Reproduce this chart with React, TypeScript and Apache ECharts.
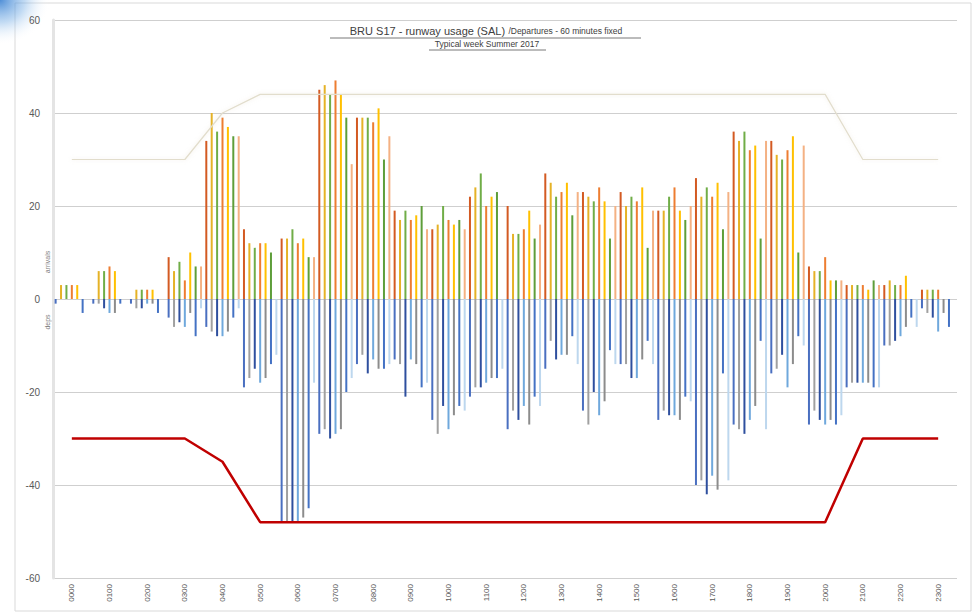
import React, { useEffect, useRef } from "react";
import * as echarts from "echarts";

const hours = ["0000","0100","0200","0300","0400","0500","0600","0700","0800","0900","1000","1100","1200","1300","1400","1500","1600","1700","1800","1900","2000","2100","2200","2300"];

// arrivals per day of the typical week (positive)
const arrDay1 = [0,0,0,9,34,15,13,45,39,19,15,22,20,27,23,23,19,26,36,34,7,3,3,2];
const arrDay2 = [3,6,2,6,40,12,13,46,39,17,16,24,14,25,22,20,19,22,34,31,6,3,4,2];
const arrDay3 = [3,6,2,8,36,11,15,44,39,19,20,27,14,22,21,22,22,24,36,30,6,3,3,2];
const arrDay4 = [3,7,2,4,39,12,12,47,38,17,17,20,15,23,24,21,24,22,32,32,9,3,3,2];
const arrDay5 = [3,6,2,10,37,12,13,44,41,18,16,22,19,25,21,24,19,25,33,35,4,2,5,0];
const arrDay6 = [0,0,0,7,35,10,9,39,30,20,17,23,13,18,13,11,17,15,13,10,4,4,0,0];
const arrDay7 = [0,0,0,7,35,0,9,29,35,15,15,0,16,23,20,19,20,23,34,33,4,3,0,0];

// departures per day (negative)
const depDay1 = [-1,-1,-1,-4,-6,-19,-48,-29,-14,-13,-26,-21,-28,-15,-24,-14,-26,-40,-27,-16,-27,-19,-10,-2];
const depDay2 = [0,-1,-2,-6,-7,-17,-48,-28,-12,-14,-29,-19,-24,-9,-27,-14,-24,-39,-28,-15,-24,-18,-10,-3];
const depDay3 = [0,-2,-2,-5,-8,-15,-48,-30,-16,-21,-23,-19,-26,-13,-20,-17,-25,-42,-29,-12,-26,-18,-9,-4];
const depDay4 = [0,-3,-1,-6,-8,-18,-48,-29,-13,-13,-28,-18,-23,-12,-25,-17,-25,-38,-26,-19,-27,-18,-8,-7];
const depDay5 = [0,-3,-1,-3,-7,-17,-47,-28,-15,-14,-25,-17,-27,-12,-22,-13,-26,-41,-23,-14,-26,-18,-6,-3];
const depDay6 = [-3,-1,-3,-8,-4,-14,-45,-20,-15,-19,-23,-17,-21,-8,-11,-9,-21,-16,-9,-8,-27,-19,-4,-6];
const depDay7 = [0,0,0,-2,-2,-12,-18,-17,-14,-18,-24,-15,-23,-14,-14,-14,-22,-39,-28,-10,-25,-19,-6,0];

// capacity lines
const arrCapacity = [30,30,30,30,40,44,44,44,44,44,44,44,44,44,44,44,44,44,44,44,44,30,30,30];
const depCapacity = [-30,-30,-30,-30,-35,-48,-48,-48,-48,-48,-48,-48,-48,-48,-48,-48,-48,-48,-48,-48,-48,-30,-30,-30];

const yTicks = { min: -60, max: 60, interval: 20 };

const arrivals = [arrDay1, arrDay2, arrDay3, arrDay4, arrDay5, arrDay6, arrDay7];
const departures = [depDay1, depDay2, depDay3, depDay4, depDay5, depDay6, depDay7];
const arrColors = ["#D35A22", "#E5B226", "#70AD47", "#ED7D31", "#FFC000", "#5E9E3A", "#F4B183"];
const depColors = ["#4A6FC0", "#A0A0A0", "#2E4F9E", "#6FA8DC", "#8C8C8C", "#4472C4", "#BDD7EE"];

const FONT = "'Liberation Sans', Arial, sans-serif";

export default function App() {
  const ref = useRef<HTMLDivElement>(null);
  useEffect(() => {
    const chart = echarts.init(ref.current!, null, { renderer: "svg" });
    const series: any[] = [];
    for (let i = 0; i < 7; i++) {
      series.push({
        type: "bar",
        name: "arr" + (i + 1),
        stack: "d" + i,
        data: arrivals[i],
        barWidth: 2,
        barGap: "170%",
        itemStyle: { color: arrColors[i] },
        z: 2,
      });
      series.push({
        type: "bar",
        name: "dep" + (i + 1),
        stack: "d" + i,
        data: departures[i],
        barWidth: 2,
        barGap: "170%",
        itemStyle: { color: depColors[i] },
        z: 2,
      });
    }
    series.push({
      type: "line",
      data: arrCapacity,
      symbol: "none",
      lineStyle: { color: "#E2DDCC", width: 1.2, shadowBlur: 4, shadowColor: "rgba(210,200,170,0.35)" },
      z: 5,
    });
    series.push({
      type: "line",
      data: depCapacity,
      symbol: "none",
      lineStyle: { color: "#C00000", width: 2.5 },
      z: 5,
    });

    const option: any = {
      animation: false,
      backgroundColor: "#ffffff",
      textStyle: { fontFamily: FONT },
      grid: { left: 53, right: 16, top: 20, bottom: 35, containLabel: false },
      xAxis: {
        type: "category",
        data: hours,
        position: "bottom",
        axisLine: { show: false, onZero: false },
        axisTick: { show: false },
        axisLabel: { rotate: 90, fontSize: 8, color: "#595959", margin: 6, fontFamily: FONT },
        splitLine: { show: false },
      },
      yAxis: {
        type: "value",
        min: yTicks.min,
        max: yTicks.max,
        interval: yTicks.interval,
        axisLine: { show: true, lineStyle: { color: "#E4E4E4", width: 3 } },
        axisTick: { show: false },
        axisLabel: { fontSize: 10, color: "#595959", margin: 13, fontFamily: FONT },
        splitLine: { lineStyle: { color: "#CFCFCF", width: 1 } },
      },
      series,
      graphic: [
        {
          type: "rect",
          shape: { x: 15, y: 3, width: 956, height: 608 },
          style: { fill: "none", stroke: "#D9D9D9", lineWidth: 1 },
          silent: true,
        },
        {
          type: "rect",
          shape: { x: 0, y: 0, width: 50, height: 45 },
          style: {
            fill: new echarts.graphic.RadialGradient(0, 0, 1, [
              { offset: 0, color: "rgba(60,130,210,0.9)" },
              { offset: 0.5, color: "rgba(120,175,230,0.45)" },
              { offset: 1, color: "rgba(255,255,255,0)" },
            ]),
          },
          silent: true,
        },
        {
          type: "text",
          x: 486,
          y: 31,
          style: {
            text: "{a|BRU S17 - runway usage (SAL)} {b|/Departures - 60 minutes fixed}",
            align: "center",
            verticalAlign: "middle",
            fontFamily: FONT,
            rich: {
              a: { fontSize: 11, fill: "#404040", fontFamily: FONT },
              b: { fontSize: 8.5, fill: "#404040", fontFamily: FONT },
            },
          },
        },
        {
          type: "line",
          shape: { x1: 330, y1: 38, x2: 641, y2: 38 },
          style: { stroke: "#555555", lineWidth: 0.8 },
        },
        {
          type: "text",
          x: 487,
          y: 44,
          style: {
            text: "Typical week Summer 2017",
            align: "center",
            verticalAlign: "middle",
            fontSize: 8.5,
            fill: "#404040",
            fontFamily: FONT,
          },
        },
        {
          type: "line",
          shape: { x1: 429, y1: 50, x2: 546, y2: 50 },
          style: { stroke: "#555555", lineWidth: 0.8 },
        },
        {
          type: "text",
          x: 47,
          y: 262,
          rotation: Math.PI / 2,
          style: {
            text: "arrivals",
            align: "center",
            verticalAlign: "middle",
            fontSize: 7,
            fill: "#7F7F7F",
            fontFamily: FONT,
          },
        },
        {
          type: "text",
          x: 47,
          y: 322,
          rotation: Math.PI / 2,
          style: {
            text: "deps",
            align: "center",
            verticalAlign: "middle",
            fontSize: 7,
            fill: "#7F7F7F",
            fontFamily: FONT,
          },
        },
      ],
    };
    chart.setOption(option);
    return () => chart.dispose();
  }, []);
  return (
    <div
      ref={ref}
      style={{ position: "fixed", left: 0, top: 0, width: 973, height: 613, background: "#ffffff" }}
    />
  );
}
